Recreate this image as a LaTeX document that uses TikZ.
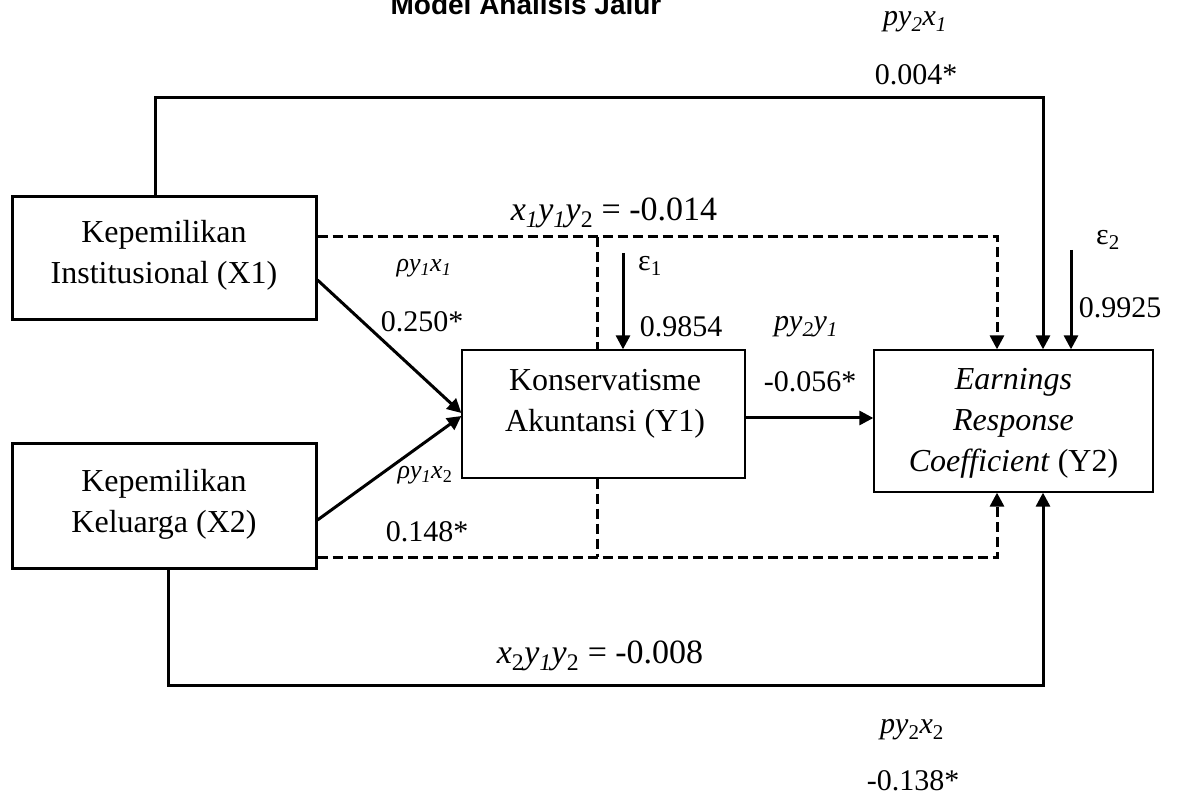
\documentclass[tikz,border=0pt]{standalone}
\usepackage{fontspec}
\setmainfont{Liberation Serif}
\newfontfamily\titlefont{Liberation Sans}
\usetikzlibrary{arrows.meta}
\newcommand\sbs[1]{\textsubscript{#1}}
\begin{document}
\begin{tikzpicture}[x=1pt,y=-1pt,
  boxtext/.style={inner sep=0pt, align=center, font=\fontsize{32}{41}\selectfont},
  thickbox/.style={draw, line width=3pt, inner sep=0pt},
  thinbox/.style={draw, line width=1.3pt, inner sep=0pt},
  lab/.style={inner sep=0pt, font=\fontsize{30}{34}\selectfont},
  smalllab/.style={inner sep=0pt, font=\fontsize{26}{30}\selectfont},
  eqlab/.style={inner sep=0pt, font=\fontsize{34}{40}\selectfont},
  solidline/.style={line width=3pt},
  dashline/.style={line width=3pt, dash pattern=on 10pt off 5pt},
  tip/.style={-{Triangle[length=14pt,width=14pt]}}
]
\useasboundingbox (0,0) rectangle (1187,794);
\fill[white] (0,0) rectangle (1187,794);

% title
\node[anchor=base, inner sep=0pt, font=\titlefont\bfseries\fontsize{28}{32}\selectfont] (title) at (526,15) {Model Analisis Jalur};

% boxes
\node[thickbox, minimum width=304pt, minimum height=123pt] (X1) at (164,258.5) {};
\node[thickbox, minimum width=304pt, minimum height=124pt] (X2) at (164,506) {};
\node[thinbox, minimum width=283pt, minimum height=128pt] (Y1) at (603.5,414) {};
\node[thinbox, minimum width=279pt, minimum height=142pt] (Y2) at (1013.5,421) {};
\node[boxtext] (X1t) at (164,255) {Kepemilikan\\Institusional (X1)};
\node[boxtext] (X2t) at (164,504) {Kepemilikan\\Keluarga (X2)};
\node[boxtext] (Y1t) at (605,403.5) {Konservatisme\\Akuntansi (Y1)};
\node[boxtext] (Y2t) at (1013.5,423) {\textit{Earnings}\\\textit{Response}\\\textit{Coefficient} (Y2)};

% coordinates
\coordinate (t2) at (1043,98);
\coordinate (d1) at (997,237);
\coordinate (dm) at (597,237);
\coordinate (d2) at (997,557);
\coordinate (dm2) at (597,557);
\coordinate (b2) at (1043,685);
\coordinate (e1) at (623,253);
\coordinate (e2) at (1071,250);

% top solid path X1 -> Y2
\draw[solidline, tip] ([xshift=-9pt]X1.north) |- (t2) -- ([xshift=29.5pt]Y2.north);
% top dashed path
\draw[dashline, tip] ([yshift=21.5pt]X1.east) -- (d1) -- ([xshift=-16.5pt]Y2.north);
\draw[dashline] (dm) -- ([xshift=-6.5pt]Y1.north);
% errors
\draw[solidline, tip] (e1) -- ([xshift=19.5pt]Y1.north);
\draw[solidline, tip] (e2) -- ([xshift=57.5pt]Y2.north);
% diagonals
\draw[solidline, tip] ([yshift=-21.5pt]X1.east) -- ([yshift=1pt]Y1.west);
\draw[solidline, tip] ([yshift=-14pt]X2.east) -- ([yshift=-2pt]Y1.west);
% Y1 -> Y2
\draw[solidline, tip] ([yshift=-4pt]Y1.east) -- ([yshift=-4pt]Y1.east -| Y2.west);
% bottom dashed
\draw[dashline, tip] ([yshift=-51pt]X2.east) -- (d2) -- ([xshift=-16.5pt]Y2.south);
\draw[dashline] ([xshift=-6.5pt]Y1.south) -- (dm2);
% bottom solid
\draw[solidline, tip] ([xshift=4pt]X2.south) |- (b2) -- ([xshift=29.5pt]Y2.south);

% labels
\node[lab] (lpy2x1) at (915,22) {\textit{py\sbs{2}x\sbs{1}}};
\node[lab] (v1) at (916,75) {0.004*};
\node[eqlab] (eq1) at (614,213) {\textit{x\sbs{1}y\sbs{1}y}\sbs{2} = -0.014};
\node[smalllab] (lr1) at (424,268) {\textit{ρy\sbs{1}x\sbs{1}}};
\node[lab] (v2) at (422,322) {0.250*};
\node[lab] (le1) at (650,266) {ε\sbs{1}};
\node[lab] (v3) at (681,327) {0.9854};
\node[lab] (lpy2y1) at (806,327) {\textit{py\sbs{2}y\sbs{1}}};
\node[lab] (v4) at (810,382) {-0.056*};
\node[lab] (le2) at (1108,240) {ε\sbs{2}};
\node[lab] (v5) at (1120,308) {0.9925};
\node[smalllab] (lr2) at (425,475) {\textit{ρy\sbs{1}x}\sbs{2}};
\node[lab] (v6) at (427,532) {0.148*};
\node[eqlab] (eq2) at (600,656) {\textit{x}\sbs{2}\textit{y\sbs{1}y}\sbs{2} = -0.008};
\node[lab] (lpy2x2) at (912,730) {\textit{py}\sbs{2}\textit{x}\sbs{2}};
\node[lab] (v7) at (913,781) {-0.138*};
\end{tikzpicture}
\end{document}
